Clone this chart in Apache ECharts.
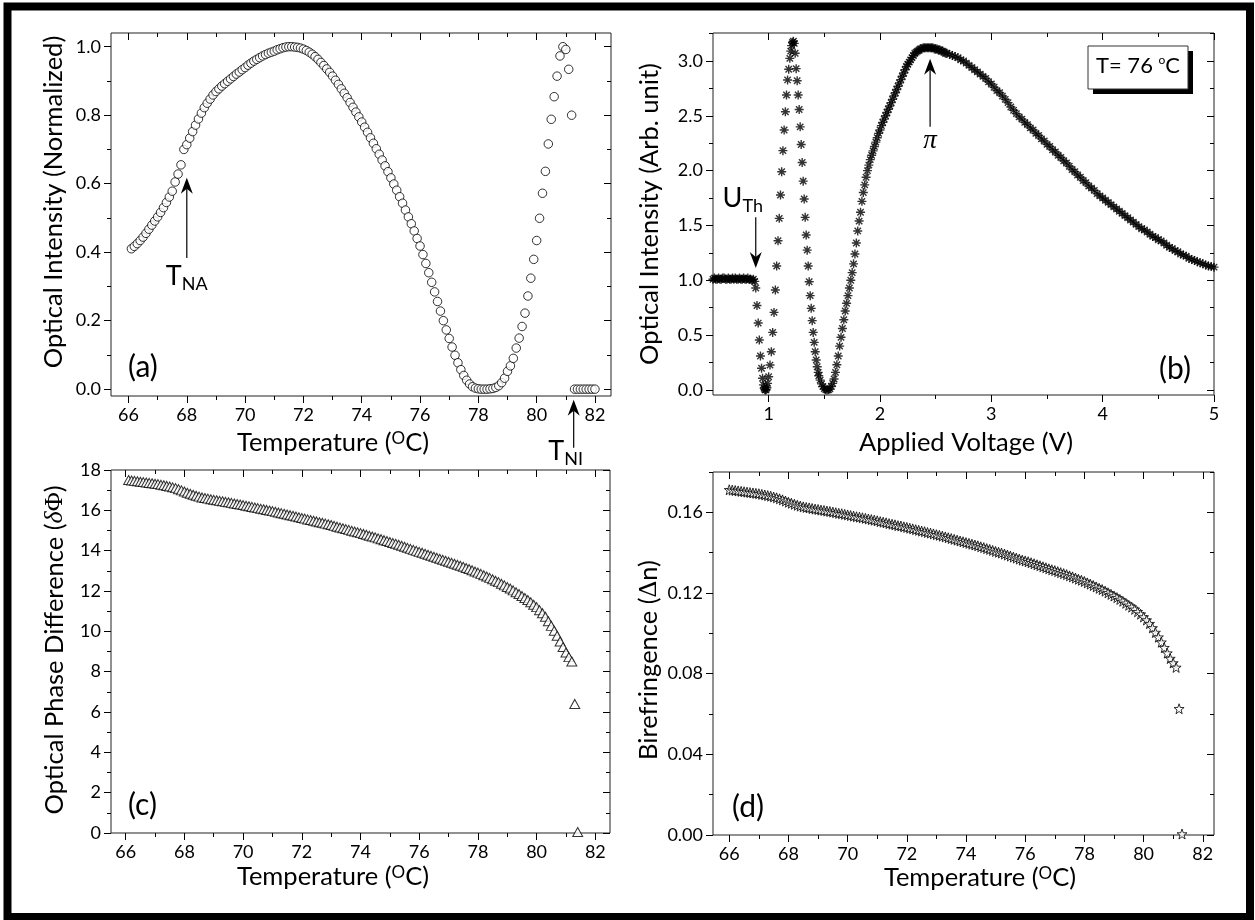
<!DOCTYPE html>
<html>
<head>
<meta charset="utf-8">
<script src="https://cdn.jsdelivr.net/npm/echarts@6/dist/echarts.min.js"></script>
<style>
  html, body { margin: 0; padding: 0; background: #fff; }
  #chart { width: 1255px; height: 920px; }
</style>
</head>
<body>
<div id="chart"></div>
<script>
// ---- (a) normalized optical intensity, read every 0.1 °C from 66.1 °C
var tempA0 = 66.1, tempStep = 0.1;
var intensityA = [
  0.410, 0.417, 0.425, 0.434, 0.444, 0.455, 0.467, 0.479, 0.491, 0.503,
  0.516, 0.530, 0.545, 0.561, 0.578, 0.605, 0.628, 0.655,
  0.700, 0.714, 0.733, 0.752, 0.771, 0.789, 0.806, 0.822, 0.835, 0.847,
  0.859, 0.869, 0.877, 0.885, 0.892, 0.899, 0.906, 0.913, 0.920, 0.926,
  0.933, 0.939, 0.946, 0.952, 0.958, 0.963, 0.968, 0.973, 0.977, 0.981,
  0.984, 0.987, 0.991, 0.994, 0.997, 0.999, 1.000, 1.000, 0.999, 0.998,
  0.996, 0.993,
  0.989, 0.984, 0.978, 0.971, 0.963, 0.954, 0.945, 0.935, 0.925, 0.914,
  0.902, 0.890, 0.877, 0.864, 0.851, 0.837, 0.823, 0.809, 0.795, 0.780,
  0.765, 0.750, 0.734, 0.718, 0.702, 0.686, 0.669, 0.652, 0.635, 0.617,
  0.599, 0.581, 0.562, 0.543, 0.523, 0.503, 0.483, 0.462, 0.440, 0.418,
  0.393, 0.367, 0.340, 0.312, 0.284, 0.256, 0.228, 0.200, 0.173, 0.148,
  0.123, 0.099, 0.077, 0.057, 0.040, 0.026, 0.015, 0.007, 0.003, 0.001,
  0.000, 0.000, 0.000, 0.001, 0.002, 0.005, 0.010, 0.019, 0.032, 0.052,
  0.068, 0.090, 0.120, 0.149, 0.183, 0.222, 0.272, 0.324, 0.379, 0.434,
  0.499, 0.572, 0.636, 0.716, 0.788, 0.854, 0.914, 0.973, 1.000, 0.992,
  0.934, 0.800,
  0, 0, 0, 0, 0, 0, 0, 0
];

// ---- (b) optical intensity vs applied voltage at 76 °C
var plateauV0 = 0.5, plateauStep = 0.0125;
var plateauI = [
  1.01, 1.02, 1.01, 1.01, 1.02, 1.01, 1.01, 1.02, 1.02, 1.01,
  1.01, 1.02, 1.01, 1.01, 1.02, 1.01, 1.02, 1.01, 1.01, 1.02,
  1.01, 1.01, 1.02, 1.01, 1.01, 1.02, 1.01, 1.01, 1.00, 1.01, 0.99
];
var fringeV = [
  0.884, 0.895, 0.906, 0.916, 0.926, 0.936, 0.945, 0.953, 0.960, 0.966, 0.972, 0.978, 0.984,
  0.990, 1.000, 1.012, 1.024, 1.036, 1.048, 1.060, 1.072, 1.084, 1.095, 1.106, 1.117,
  1.128, 1.139, 1.150, 1.160, 1.170, 1.180, 1.190, 1.198, 1.206, 1.214, 1.222, 1.230,
  1.238, 1.247, 1.256, 1.265, 1.274, 1.283, 1.292, 1.301, 1.310, 1.319, 1.328, 1.337,
  1.346, 1.355, 1.364, 1.373, 1.382, 1.391, 1.400, 1.409, 1.418, 1.427, 1.436, 1.445
];
var fringeI = [
  0.93, 0.77, 0.61, 0.455, 0.31, 0.198, 0.107, 0.046, 0.015, 0.003, 0.0, 0.005, 0.02,
  0.06, 0.12, 0.227, 0.349, 0.525, 0.707, 0.911, 1.13, 1.361, 1.565, 1.778, 1.99,
  2.182, 2.37, 2.537, 2.69, 2.827, 2.924, 3.024, 3.09, 3.14, 3.17, 3.18, 3.16,
  3.07, 2.93, 2.82, 2.69, 2.557, 2.399, 2.238, 2.074, 1.904, 1.741, 1.574, 1.413,
  1.275, 1.13, 0.987, 0.86, 0.744, 0.632, 0.525, 0.434, 0.349, 0.273, 0.212, 0.16
];
var riseV0 = 1.45, riseStep = 0.0125;
var riseI = [
  0.13, 0.09, 0.055, 0.03, 0.012, 0.003, 0.000, 0.002, 0.010, 0.030,
  0.060, 0.100, 0.160, 0.230, 0.310, 0.400,
  0.48, 0.56, 0.64, 0.72, 0.79, 0.86, 0.93, 1.00,
  1.07, 1.15, 1.24, 1.34, 1.45, 1.54, 1.62, 1.72, 1.80, 1.87, 1.94, 2.00,
  2.05, 2.10, 2.14, 2.18, 2.22, 2.26, 2.30, 2.34, 2.37,
  2.41, 2.44, 2.47, 2.50, 2.53, 2.56, 2.59, 2.62, 2.65, 2.68, 2.71, 2.74,
  2.77, 2.80, 2.83, 2.86, 2.89, 2.92, 2.95, 2.97, 2.99, 3.01, 3.03, 3.05,
  3.07, 3.08, 3.09, 3.10, 3.11, 3.11, 3.12, 3.12, 3.12, 3.12, 3.12, 3.12, 3.12, 3.12,
  3.11, 3.11, 3.11, 3.10, 3.10, 3.09, 3.09, 3.08, 3.07, 3.07
];
var tailV0 = 2.625, tailStep = 0.025;
var tailI = [
  3.06, 3.05, 3.04, 3.03, 3.01, 3.00, 2.98, 2.96,
  2.94, 2.92, 2.90, 2.88, 2.86, 2.84, 2.81, 2.79,
  2.76, 2.73, 2.71, 2.68, 2.65, 2.62, 2.58, 2.55,
  2.52, 2.49, 2.47, 2.44, 2.42, 2.39, 2.37, 2.34,
  2.32, 2.29, 2.27, 2.24, 2.22, 2.19, 2.17, 2.14,
  2.12, 2.09, 2.07, 2.04, 2.01, 1.99, 1.96, 1.94,
  1.91, 1.89, 1.86, 1.84, 1.82, 1.79, 1.77, 1.75,
  1.73, 1.71, 1.69, 1.67, 1.65, 1.63, 1.61, 1.59,
  1.57, 1.55, 1.53, 1.51, 1.49, 1.47, 1.46, 1.44,
  1.42, 1.40, 1.39, 1.37, 1.36, 1.34, 1.32, 1.30,
  1.29, 1.27, 1.26, 1.24, 1.23, 1.22, 1.20, 1.19,
  1.18, 1.17, 1.16, 1.15, 1.14, 1.13, 1.125, 1.12
];

// ---- (c) optical phase difference, every 0.1 °C from 66.1 °C
var tempC0 = 66.1;
var phaseC = [
  17.50, 17.48, 17.46, 17.44, 17.42, 17.40, 17.38, 17.36, 17.34, 17.32,
  17.30, 17.27, 17.24, 17.21, 17.18, 17.14, 17.10, 17.05, 16.99, 16.93,
  16.87, 16.82, 16.77, 16.72, 16.68, 16.64, 16.61, 16.58, 16.55, 16.52,
  16.50, 16.47, 16.45, 16.42, 16.40, 16.37, 16.34, 16.31, 16.29, 16.26,
  16.23, 16.20, 16.17, 16.14, 16.11, 16.08, 16.05, 16.02, 15.99, 15.96,
  15.93, 15.89, 15.86, 15.83, 15.79, 15.76, 15.73, 15.69, 15.66, 15.62,
  15.59, 15.55, 15.52, 15.48, 15.45, 15.41, 15.38, 15.34, 15.31, 15.27,
  15.23, 15.19, 15.15, 15.11, 15.07, 15.03, 14.99, 14.95, 14.91, 14.87,
  14.83, 14.79, 14.74, 14.70, 14.66, 14.61, 14.57, 14.52, 14.48, 14.43,
  14.38, 14.34, 14.29, 14.24, 14.19, 14.14, 14.09, 14.04, 13.99, 13.94,
  13.90, 13.85, 13.80, 13.75, 13.70, 13.65, 13.60, 13.55, 13.50, 13.45,
  13.40, 13.35, 13.30, 13.25, 13.20, 13.14, 13.09, 13.03, 12.97, 12.91,
  12.85, 12.78, 12.72, 12.65, 12.58, 12.51, 12.44, 12.36, 12.28, 12.20,
  12.12, 12.03, 11.94, 11.85, 11.75, 11.65, 11.55, 11.44, 11.32, 11.20,
  11.05, 10.90, 10.72, 10.50, 10.27, 10.03, 9.78, 9.50, 9.22, 8.95,
  8.72, 8.50, 6.40, 0.05
];

// ---- (d) birefringence, every 0.1 °C from 66.0 °C
var tempD0 = 66.0;
var birefD = [
  0.1712, 0.1710, 0.1708, 0.1706, 0.1704, 0.1702, 0.1700, 0.1698, 0.1696, 0.1694,
  0.1692, 0.1689, 0.1686, 0.1683, 0.1680, 0.1676, 0.1672, 0.1667, 0.1662, 0.1656,
  0.1650, 0.1645, 0.1640, 0.1635, 0.1631, 0.1627, 0.1624, 0.1622, 0.1619, 0.1616,
  0.1614, 0.1611, 0.1609, 0.1606, 0.1604, 0.1601, 0.1598, 0.1595, 0.1593, 0.1590,
  0.1587, 0.1584, 0.1581, 0.1578, 0.1576, 0.1573, 0.1570, 0.1567, 0.1564, 0.1561,
  0.1558, 0.1554, 0.1551, 0.1548, 0.1544, 0.1541, 0.1538, 0.1534, 0.1532, 0.1528,
  0.1525, 0.1521, 0.1518, 0.1514, 0.1511, 0.1507, 0.1504, 0.1500, 0.1497, 0.1493,
  0.1489, 0.1486, 0.1482, 0.1478, 0.1474, 0.1470, 0.1466, 0.1462, 0.1458, 0.1454,
  0.1450, 0.1446, 0.1442, 0.1438, 0.1434, 0.1429, 0.1425, 0.1420, 0.1416, 0.1411,
  0.1406, 0.1402, 0.1398, 0.1393, 0.1388, 0.1383, 0.1378, 0.1373, 0.1368, 0.1363,
  0.1359, 0.1355, 0.1350, 0.1345, 0.1340, 0.1335, 0.1330, 0.1325, 0.1320, 0.1315,
  0.1311, 0.1306, 0.1301, 0.1296, 0.1291, 0.1285, 0.1280, 0.1274, 0.1268, 0.1263,
  0.1257, 0.1250, 0.1244, 0.1237, 0.1230, 0.1223, 0.1217, 0.1209, 0.1201, 0.1193,
  0.1185, 0.1177, 0.1168, 0.1159, 0.1149, 0.1139, 0.1130, 0.1119, 0.1107, 0.1095,
  0.1081, 0.1066, 0.1048, 0.1027, 0.1004, 0.0981, 0.0956, 0.0929, 0.0902, 0.0875,
  0.0853, 0.0831, 0.0626, 0.0005
];

// ---- tick values
var tempMajor = [66, 68, 70, 72, 74, 76, 78, 80, 82];
var tempMinor = [67, 69, 71, 73, 75, 77, 79, 81];
var intMajor = [0, 0.2, 0.4, 0.6, 0.8, 1.0];
var intMinor = [0.1, 0.3, 0.5, 0.7, 0.9];
var voltMajor = [1, 2, 3, 4, 5];
var voltMinor = [1.5, 2.5, 3.5, 4.5];
var arbMajor = [0, 0.5, 1.0, 1.5, 2.0, 2.5, 3.0];
var arbMinor = [0.25, 0.75, 1.25, 1.75, 2.25, 2.75, 3.25];
var phaseMajor = [0, 2, 4, 6, 8, 10, 12, 14, 16, 18];
var phaseMinor = [1, 3, 5, 7, 9, 11, 13, 15, 17];
var birefMajor = [0, 0.04, 0.08, 0.12, 0.16];
var birefMinor = [0.02, 0.06, 0.10, 0.14, 0.18];

var LATO = 'Lato';

function onGrid(x0, step, values) {
  return values.map(function (v, i) {
    return [Math.round((x0 + i * step) * 10000) / 10000, v];
  });
}

var dataA = onGrid(tempA0, tempStep, intensityA);
var dataB = onGrid(plateauV0, plateauStep, plateauI)
  .concat(fringeV.map(function (v, i) { return [v, fringeI[i]]; }))
  .concat(onGrid(riseV0, riseStep, riseI))
  .concat(onGrid(tailV0, tailStep, tailI));
var dataC = onGrid(tempC0, tempStep, phaseC);
var dataD = onGrid(tempD0, tempStep, birefD);

var grids = [
  { left: 111, top: 33, width: 500, height: 363 },
  { left: 713, top: 33, width: 501, height: 362 },
  { left: 111, top: 470, width: 499, height: 363 },
  { left: 713, top: 472, width: 501, height: 363 }
].map(function (g) {
  return Object.assign({ show: true, borderColor: '#222', borderWidth: 1, backgroundColor: 'transparent' }, g);
});

var xAxes = [], yAxes = [], mainX = [], mainY = [];

// four axes per side: labelled major ticks, minor ticks, and the mirrored
// inward ticks on the opposite edge
function addAxes(list, mains, gi, pos, mirror, r) {
  function axis(position, values, len, inside, labels) {
    return {
      type: 'value', gridIndex: gi, position: position, min: r.min, max: r.max,
      axisLine: { show: false, onZero: false },
      splitLine: { show: false },
      axisTick: { show: true, customValues: values, length: len, inside: inside,
        lineStyle: { color: '#000', width: 1 } },
      axisLabel: labels ? {
        show: true, customValues: values, formatter: r.fmt, margin: r.margin,
        fontFamily: LATO, fontSize: 18, color: '#000'
      } : { show: false }
    };
  }
  mains[gi] = list.length;
  list.push(axis(pos, r.major, 7, false, true));
  list.push(axis(pos, r.minor, 4, false, false));
  list.push(axis(mirror, r.major, 7, true, false));
  list.push(axis(mirror, r.minor, 4, true, false));
}

function fmtInt(v) { return String(v); }
function fmt1(v) { return v.toFixed(1); }
function fmt2(v) { return v.toFixed(2); }

addAxes(xAxes, mainX, 0, 'bottom', 'top', { min: 65.4, max: 82.55, major: tempMajor, minor: tempMinor, fmt: fmtInt, margin: 10 });
addAxes(yAxes, mainY, 0, 'left', 'right', { min: -0.02, max: 1.04, major: intMajor, minor: intMinor, fmt: fmt1, margin: 10 });
addAxes(xAxes, mainX, 1, 'bottom', 'top', { min: 0.5, max: 5.0, major: voltMajor, minor: voltMinor, fmt: fmtInt, margin: 10 });
addAxes(yAxes, mainY, 1, 'left', 'right', { min: -0.046, max: 3.255, major: arbMajor, minor: arbMinor, fmt: fmt1, margin: 10 });
addAxes(xAxes, mainX, 2, 'bottom', 'top', { min: 65.5, max: 82.5, major: tempMajor, minor: tempMinor, fmt: fmtInt, margin: 10 });
addAxes(yAxes, mainY, 2, 'left', 'right', { min: 0, max: 18, major: phaseMajor, minor: phaseMinor, fmt: fmtInt, margin: 10 });
addAxes(xAxes, mainX, 3, 'bottom', 'top', { min: 65.45, max: 82.38, major: tempMajor, minor: tempMinor, fmt: fmtInt, margin: 10 });
addAxes(yAxes, mainY, 3, 'left', 'right', { min: 0, max: 0.18, major: birefMajor, minor: birefMinor, fmt: fmt2, margin: 10 });

var starPath = 'path://M10,0L12.35,6.76L19.51,6.91L13.8,11.24L15.88,18.09L10,14L4.12,18.09L6.2,11.24L0.49,6.91L7.65,6.76Z';
var asteriskPath = 'path://M5,0L5,10M0,5L10,5M1.46,1.46L8.54,8.54M8.54,1.46L1.46,8.54';

var chart = echarts.init(document.getElementById('chart'));
chart.setOption({
  animation: false,
  backgroundColor: '#fff',
  grid: grids,
  xAxis: xAxes,
  yAxis: yAxes,
  series: [
    { type: 'scatter', xAxisIndex: mainX[0], yAxisIndex: mainY[0], data: dataA, symbol: 'circle', symbolSize: 8.5,
      itemStyle: { color: '#fff', borderColor: '#000', borderWidth: 1 }, silent: true },
    { type: 'scatter', xAxisIndex: mainX[1], yAxisIndex: mainY[1], data: dataB, symbol: asteriskPath, symbolSize: 9,
      itemStyle: { color: '#000', borderColor: '#000', borderWidth: 1.4 }, silent: true },
    { type: 'scatter', xAxisIndex: mainX[2], yAxisIndex: mainY[2], data: dataC, symbol: 'triangle', symbolSize: [10, 9],
      itemStyle: { color: '#fff', borderColor: '#000', borderWidth: 1 }, silent: true },
    { type: 'scatter', xAxisIndex: mainX[3], yAxisIndex: mainY[3], data: dataD, symbol: starPath, symbolSize: 10,
      itemStyle: { color: '#fff', borderColor: '#000', borderWidth: 1 }, silent: true }
  ]
});

// ---- annotations, titles and frame
function px(si, x, y) { return chart.convertToPixel({ seriesIndex: si }, [x, y]); }

function arrow(tail, tip) {
  var dx = tip[0] - tail[0], dy = tip[1] - tail[1];
  var len = Math.sqrt(dx * dx + dy * dy), ux = dx / len, uy = dy / len;
  var nx = -uy, ny = ux, L = 16, W = 6, N = 11;
  var back = [tip[0] - ux * L, tip[1] - uy * L];
  var notch = [tip[0] - ux * N, tip[1] - uy * N];
  return [
    { type: 'line', z: 100, shape: { x1: tail[0], y1: tail[1], x2: notch[0], y2: notch[1] },
      style: { stroke: '#000', lineWidth: 1.2 } },
    { type: 'polygon', z: 100, shape: { points: [tip, [back[0] + nx * W, back[1] + ny * W], notch,
      [back[0] - nx * W, back[1] - ny * W]] }, style: { fill: '#000' } }
  ];
}

var titleRich = {
  t: { fontFamily: LATO, fontSize: 25.5, lineHeight: 30, verticalAlign: 'top' },
  s: { fontFamily: LATO, fontSize: 17, lineHeight: 18, verticalAlign: 'top' },
  g: { fontFamily: 'Liberation Serif', fontStyle: 'italic', fontSize: 26, lineHeight: 30, verticalAlign: 'top' },
  p: { fontFamily: 'Liberation Serif', fontSize: 26, lineHeight: 30, verticalAlign: 'top' }
};
// subscript: the small token sits on the bottom of a 30px line
var subRich = {
  t: { fontFamily: LATO, fontSize: 27, lineHeight: 30, verticalAlign: 'top' },
  b: { fontFamily: LATO, fontSize: 18, lineHeight: 30, verticalAlign: 'bottom' }
};

function text(x, y, str, rich, opts) {
  opts = opts || {};
  return {
    type: 'text', z: 100, x: x, y: y, rotation: opts.rotate ? Math.PI / 2 : 0,
    style: {
      text: str, rich: rich, fontFamily: opts.font || LATO, fontSize: opts.size || 25.5,
      fontStyle: opts.italic ? 'italic' : 'normal', fill: '#000',
      align: opts.align || 'center', verticalAlign: opts.valign || 'middle'
    }
  };
}

var tna0 = px(0, 68, 0.383), tna1 = px(0, 68, 0.617);
var tni0 = px(0, 81.27, -0.171), tni1 = px(0, 81.27, -0.031);
var uth0 = px(1, 0.884, 1.576), uth1 = px(1, 0.884, 1.111);
var pi0 = px(1, 2.45, 2.40), pi1 = px(1, 2.45, 3.02);

var els = [
  { type: 'rect', z: 100, shape: { x: 7.5, y: 6.5, width: 1242.5, height: 910.5 },
    style: { fill: 'none', stroke: '#000', lineWidth: 8 } },

  text(56, 202, '{t|Optical Intensity (Normalized)}', titleRich, { rotate: true }),
  text(652, 214, '{t|Optical Intensity (Arb. unit)}', titleRich, { rotate: true }),
  text(57, 650, '{t|Optical Phase Difference (}{g|δ}{p|Φ}{t|)}', titleRich, { rotate: true }),
  text(651, 660, '{t|Birefringence (}{p|Δ}{t|n)}', titleRich, { rotate: true }),
  text(333, 445, '{t|Temperature (}{s|O}{t|C)}', titleRich),
  text(966, 445, '{t|Applied Voltage (V)}', titleRich),
  text(333, 879, '{t|Temperature (}{s|O}{t|C)}', titleRich),
  text(980, 880, '{t|Temperature (}{s|O}{t|C)}', titleRich),

  text(128, 367, '(a)', null, { size: 30, align: 'left' }),
  text(1159, 369, '(b)', null, { size: 30, align: 'left' }),
  text(128, 805, '(c)', null, { size: 30, align: 'left' }),
  text(732, 807, '(d)', null, { size: 30, align: 'left' }),

  text(tna0[0], tna0[1] + 5, '{t|T}{b|NA}', subRich, { valign: 'top' }),
  text(tni0[0] - 8, tni0[1] - 10, '{t|T}{b|NI}', subRich, { valign: 'top' }),
  text(uth0[0] - 13, uth0[1] - 2, '{t|U}{b|Th}', subRich, { valign: 'bottom' }),
  text(pi0[0], pi0[1] + 14, 'π', null, { font: 'Liberation Serif', italic: true, size: 27 }),

  { type: 'rect', z: 99, shape: { x: 1093, y: 51, width: 100, height: 43 }, style: { fill: '#000' } },
  { type: 'rect', z: 100, shape: { x: 1088, y: 46, width: 100, height: 43 },
    style: { fill: '#fff', stroke: '#333', lineWidth: 1 } },
  text(1138, 67.5, '{t|T= 76 }{s|o}{t|C}', {
    t: { fontFamily: LATO, fontSize: 22, lineHeight: 26, verticalAlign: 'top' },
    s: { fontFamily: LATO, fontSize: 12, lineHeight: 12, verticalAlign: 'top' }
  })
].concat(arrow(tna0, tna1), arrow(tni0, tni1), arrow(uth0, uth1), arrow(pi0, pi1));

chart.setOption({ graphic: { elements: els } });
</script>
</body>
</html>
